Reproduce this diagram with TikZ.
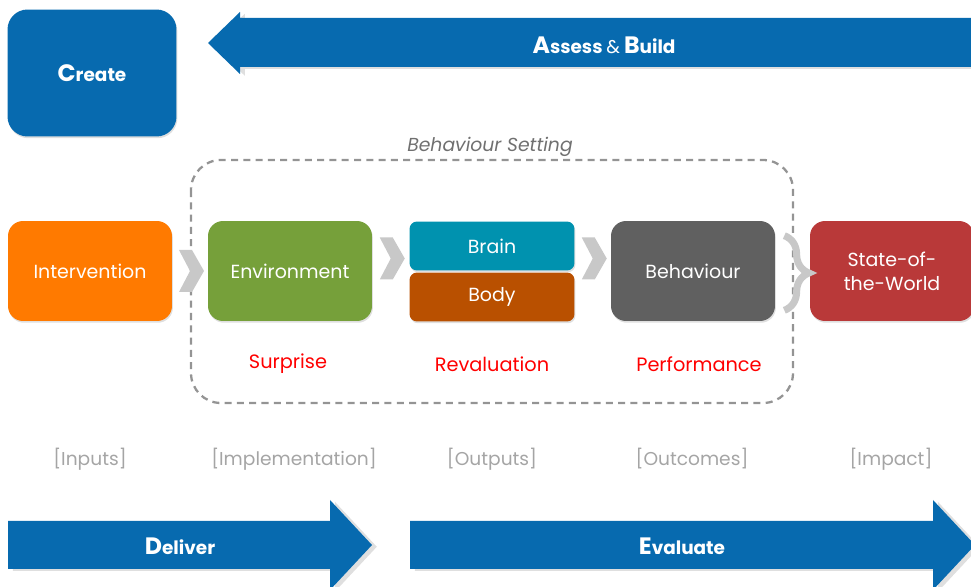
\documentclass[tikz,border=0pt]{standalone}
\usepackage{fontspec}
\setmainfont{Poppins}
\usetikzlibrary{calc}
\usetikzlibrary{decorations.pathreplacing}
\usetikzlibrary{shadows}
\definecolor{bigblue}{RGB}{7,106,175}
\definecolor{orangebox}{RGB}{255,122,0}
\definecolor{greenbox}{RGB}{118,160,58}
\definecolor{tealbox}{RGB}{0,146,175}
\definecolor{rustbox}{RGB}{185,80,0}
\definecolor{greybox}{RGB}{96,96,96}
\definecolor{redbox}{RGB}{185,57,57}
\definecolor{chevgrey}{RGB}{200,200,200}
\definecolor{labelgrey}{RGB}{165,165,165}
\tikzset{box/.style={rounded corners=0.3cm, minimum width=3.28cm, minimum height=2cm,
   text=white, inner sep=0pt, align=center, font=\fontsize{10.8}{13.5}\selectfont,
   drop shadow={opacity=0.25, shadow xshift=0.5pt, shadow yshift=-1pt}},
 half/.style={box, rounded corners=0.15cm, minimum width=3.3cm, minimum height=0.98cm},
 bigtext/.style={text=white, font=\fontsize{10.5}{13}\selectfont\bfseries},
 effect/.style={text=red, font=\fontsize{11}{13}\selectfont},
 stage/.style={text=labelgrey, font=\fontsize{10.6}{13}\selectfont},
 }
\newcommand{\capfirst}[2]{{\fontsize{13.5}{14}\selectfont #1}#2}
\newcommand{\chev}[2]{%
  \fill[chevgrey] ($(#1.east)!0.5!(#2.west)$) ++(-11,-21) -- ++(13,0) -- ++(12,21)
     -- ++(-12,21) -- ++(-13,0) -- ++(11,-21) -- cycle;}

\begin{document}
\begin{tikzpicture}[x=0.02cm, y=-0.02cm]
        \useasboundingbox (0,0) rectangle (971,587);

        % top row
        \node[box, fill=bigblue, minimum width=3.38cm, minimum height=2.54cm, rounded corners=0.4cm]
            (create) at (92,73) {\bfseries\fontsize{10.5}{13}\selectfont\capfirst{C}{reate}};
        \fill[bigblue, drop shadow={opacity=0.25, shadow yshift=-1pt}] (208,43) -- (240,12) -- (240,18) -- (975,18)
            -- (975,67) -- (240,67) -- (240,74) -- cycle;
        \node[bigtext] (assess) at (604,45) {\capfirst{A}{ssess} {\mdseries\&} \capfirst{B}{uild}};

        % behaviour setting
        \draw[labelgrey!90!black, line width=1.3pt, dash pattern=on 4pt off 3pt, rounded corners=0.6cm]
            (191,160) rectangle (793,403);
        \node[stage, text=greybox!90, font=\fontsize{10.7}{13}\selectfont\itshape] (setting) at (490,147) {Behaviour Setting};

        % chain
        \node[box, fill=orangebox] (intervention) at (90,271) {Intervention};
        \node[box, fill=greenbox] (environment) at (290,271) {Environment};
        \node[half, fill=tealbox] (brain) at (492,246) {Brain};
        \node[half, fill=rustbox] (body) at (492,297) {Body};
        \node[box, fill=greybox] (behaviour) at (693,271) {Behaviour};
        \node[box, fill=redbox] (world) at (892,271) {State-of-\\the-World};

        \chev{intervention}{environment}
        \chev{environment}{brain}
        \chev{brain}{behaviour}
        \draw[chevgrey, line width=4pt, decorate, decoration={brace, amplitude=14pt}]
            ($(behaviour.north east)+(9,15)$) -- ($(behaviour.south east)+(9,-11)$);

        \foreach \txt/\x/\n in {Surprise/288/surprise, Revaluation/492/revaluation, Performance/699/performance} {
            \node[effect] (\n) at (\x,364) {\txt};
        }
        \foreach \txt/\x/\n in {Inputs/90/inputs, Implementation/294/implementation, Outputs/492/outputs,
                                Outcomes/692/outcomes, Impact/891/impact} {
            \node[stage] (\n) at (\x,459) {[\txt]};
        }

        % bottom arrows
        \fill[bigblue, drop shadow={opacity=0.25, shadow yshift=-1pt}] (8,521) -- (330,521) -- (330,500) -- (372,545)
            -- (330,590) -- (330,569) -- (8,569) -- cycle;
        \node[bigtext] (deliver) at (180,546) {\capfirst{D}{eliver}};
        \fill[bigblue, drop shadow={opacity=0.25, shadow yshift=-1pt}] (410,521) -- (933,521) -- (933,500) -- (975,545)
            -- (933,590) -- (933,569) -- (410,569) -- cycle;
        \node[bigtext] (evaluate) at (682,546) {\capfirst{E}{valuate}};
    \end{tikzpicture}
\end{document}
